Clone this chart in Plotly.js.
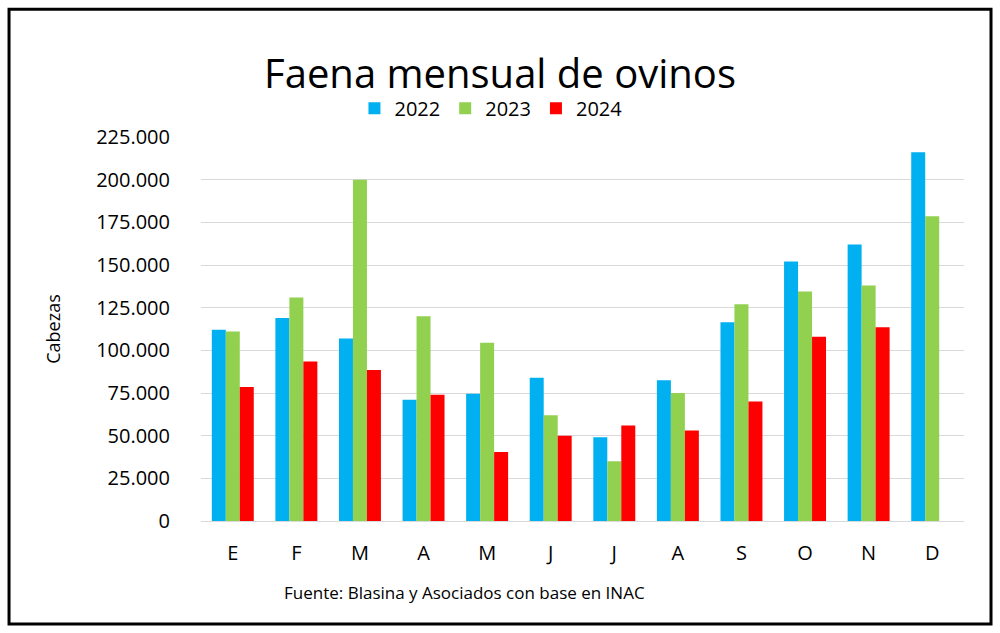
<!DOCTYPE html>
<html>
<head>
<meta charset="utf-8">
<script src="https://cdn.plot.ly/plotly-3.0.1.min.js"></script>
<style>body{margin:0;background:#fff}</style>
</head>
<body>
<div id="chart" style="width:1000px;height:633px"></div>
<script>
const months = ["E", "F", "M", "A", "M", "J", "J", "A", "S", "O", "N", "D"];
const slots = months.map((m, i) => i);
const y2022 = [112000, 119000, 107000, 71000, 74500, 84000, 49000, 82500, 116500, 152000, 162000, 216000];
const y2023 = [111000, 131000, 200000, 120000, 104500, 62000, 35000, 75000, 127000, 134500, 138000, 178500];
const y2024 = [78500, 93500, 88500, 74000, 40500, 50000, 56000, 53000, 70000, 108000, 113500, null];
const tickVals = [0, 25000, 50000, 75000, 100000, 125000, 150000, 175000, 200000, 225000];

function series(name, y, color)
{
  return {x: slots, y, name, type: "bar", marker: {color}};
}

const layout = {
  width: 1000,
  height: 633,
  margin: {l: 201, r: 36, t: 137, b: 112},
  separators: ",.",
  font: {family: "Open Sans, sans-serif", color: "#000"},
  title: {text: "Faena mensual de ovinos", font: {size: 40}, x: 0.5, xref: "container", y: 0.905, yref: "container"},
  barmode: "group",
  bargap: 0.34,
  bargroupgap: 0,
  showlegend: true,
  legend: {orientation: "h", x: 0.38, xanchor: "center", y: 1.075, yanchor: "middle", font: {size: 20}, traceorder: "normal"},
  xaxis: {tickvals: slots, ticktext: months, tickfont: {size: 20}, showline: true, linecolor: "#d9d9d9", ticks: "",
    range: [-0.5, 11.5], ticklabelstandoff: 14},
  yaxis: {range: [0, 225000], tickvals: tickVals, tickformat: ",d", tickfont: {size: 20}, gridcolor: "#d9d9d9",
    zeroline: false, ticks: "", ticklen: 0, ticklabelstandoff: 30,
    title: {text: "Cabezas", font: {size: 18}, standoff: 30}},
  annotations: [{text: "Fuente: Blasina y Asociados con base en INAC", xref: "paper", yref: "paper",
    x: 0.346, y: -0.185, yanchor: "middle", showarrow: false, font: {size: 17}}],
  shapes: [{type: "rect", xref: "paper", yref: "paper", x0: -0.2516, x1: 1.0354, y0: -0.268, y1: 1.333,
    line: {color: "#000", width: 3}}]
};

Plotly.newPlot("chart", [
  series("2022", y2022, "#00B0F0"),
  series("2023", y2023, "#92D050"),
  series("2024", y2024, "#FF0000")
], layout, {displayModeBar: false});
</script>
</body>
</html>
